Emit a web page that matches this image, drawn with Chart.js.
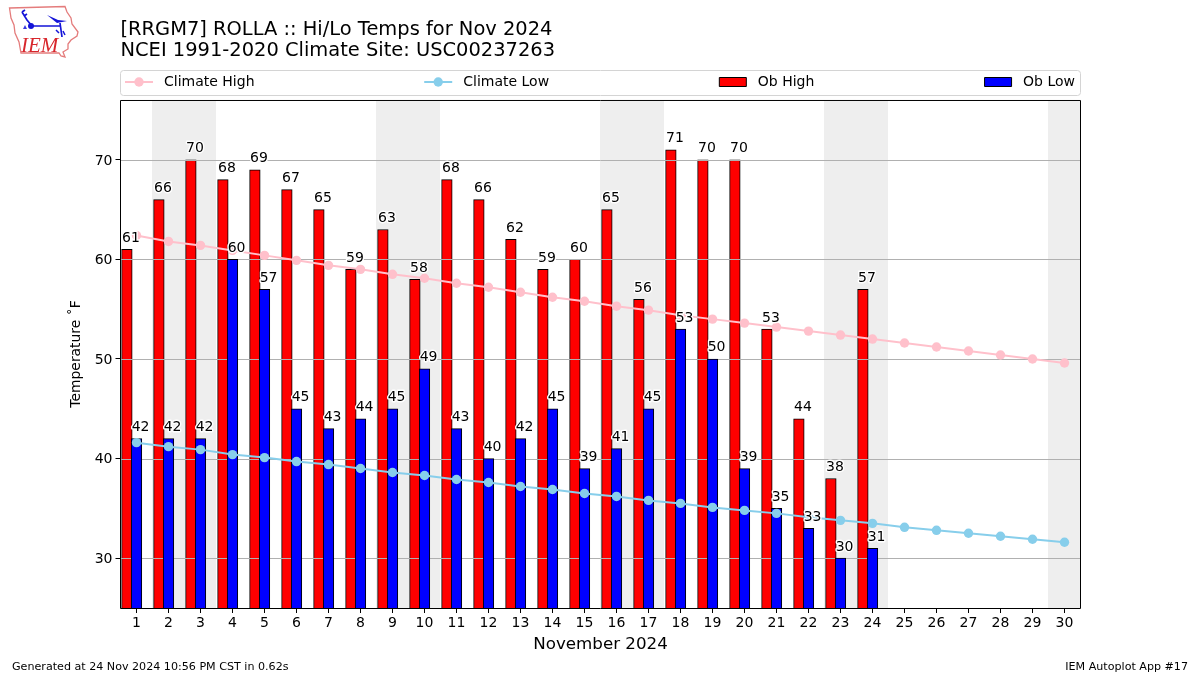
<!doctype html>
<html>

<head>
	<title>ROLLA Hi/Lo Temps</title>
	<script src="https://cdn.jsdelivr.net/npm/chart.js@4"></script>
	<style>
		body { margin: 0; background: #fff; }
		#logo { position: absolute; left: 0; top: 0; }
	</style>
</head>

<body>
	<canvas id="chart-area" width="1200" height="675"></canvas>
	<svg id="logo" width="90" height="64" viewBox="0 0 90 64">
		<path d="M9.5 8 L65 6.5 L67 12 L71 18 L72 24 L78 32 L77 36 L71 40 L68 44 L68 49 L63 52 L65 57 L61 56 L59 53 L21 53 L19 42 L15 33 L14 25 L11 18 Z" fill="none" stroke="#e47c7c" stroke-width="1.3"/>
		<path d="M32 26 L60 26 M60 23 L62 37 M22 12 L27 20 L32 26 M22 12 L25 10 M24 16 L27 14" fill="none" stroke="#1414d8" stroke-width="1.7"/>
		<path d="M47 15 L58 20 L67 21 L57 23 Z" fill="#1414d8"/>
		<circle cx="31" cy="26" r="3" fill="#1414d8"/>
		<path d="M23 29 L25 25 L27 29 Z" fill="#3a3ae0"/>
		<path d="M56 30 L59 33 M63 31 L65 35" stroke="#1414d8" stroke-width="1.5"/>
		<text x="21" y="52" font-family="Liberation Serif" font-style="italic" font-size="21" fill="#d8262c">IEM</text>
	</svg>
	<script>
		var titleLines = ['[RRGM7] ROLLA :: Hi/Lo Temps for Nov 2024', 'NCEI 1991-2020 Climate Site: USC00237263'];
		var days = [1,2,3,4,5,6,7,8,9,10,11,12,13,14,15,16,17,18,19,20,21,22,23,24,25,26,27,28,29,30];
		var yTicks = [30,40,50,60,70];
		var weekends = [2,3,9,10,16,17,23,24,30];
		var climateHigh = [62.4,61.8,61.4,60.9,60.4,59.9,59.4,59.0,58.5,58.1,57.6,57.2,56.7,56.2,55.8,55.3,54.9,54.4,54.0,53.6,53.2,52.8,52.4,52.0,51.6,51.2,50.8,50.4,50.0,49.6];
		var climateLow = [41.6,41.2,40.9,40.4,40.1,39.7,39.4,39.0,38.6,38.3,37.9,37.6,37.2,36.9,36.5,36.2,35.8,35.5,35.1,34.8,34.5,34.1,33.8,33.5,33.1,32.8,32.5,32.2,31.9,31.6];
		var obHigh = [61,66,70,68,69,67,65,59,63,58,68,66,62,59,60,65,56,71,70,70,53,44,38,57];
		var obLow = [42,42,42,60,57,45,43,44,45,49,43,40,42,45,39,41,45,53,50,39,35,33,30,31];

		var FONT = '"DejaVu Sans"';
		var HIGH_SHIFT = -0.3;

		function barPoints(values, shift) {
			return values.map(function(v, i) {
				return { x: days[i] + shift, y: v };
			});
		}

		// weekend bands go under everything
		var bandsPlugin = {
			id: 'bands',
			afterLayout: function(chart) {
				// y tick labels sit a touch high with canvas middle baseline
				chart.scales.y.getLabelItems().forEach(function(item) {
					item.options.translation[1] += 1.2;
				});
			},
			beforeDatasetsDraw: function(chart) {
				var a = chart.chartArea, x = chart.scales.x, ctx = chart.ctx;
				ctx.save();
				ctx.fillStyle = '#eeeeee';
				weekends.forEach(function(d) {
					var l = Math.floor(x.getPixelForValue(d - 0.5)), r = Math.floor(x.getPixelForValue(d + 0.5));
					ctx.fillRect(l, a.top, r - l, a.bottom - a.top);
				});
				ctx.restore();
			}
		};

		// the grid sits on top of the bars but under the climate lines
		var gridPlugin = {
			id: 'midGrid',
			afterDatasetDraw: function(chart, args) {
				if (chart.data.datasets[args.index].label !== 'Ob High') return;
				var a = chart.chartArea, y = chart.scales.y, ctx = chart.ctx;
				ctx.save();
				ctx.strokeStyle = '#b0b0b0';
				ctx.lineWidth = 1;
				yTicks.forEach(function(v) {
					var p = Math.round(y.getPixelForValue(v)) + 0.5;
					ctx.beginPath();
					ctx.moveTo(a.left, p);
					ctx.lineTo(a.right, p);
					ctx.stroke();
				});
				ctx.restore();
			}
		};

		var overlayPlugin = {
			id: 'overlay',
			afterDraw: function(chart) {
				var ctx = chart.ctx, a = chart.chartArea, x = chart.scales.x, y = chart.scales.y;
				ctx.save();

				// bar value labels
				ctx.font = '14px ' + FONT;
				ctx.textAlign = 'left';
				ctx.textBaseline = 'alphabetic';
				ctx.lineJoin = 'round';
				[[obHigh, HIGH_SHIFT], [obLow, 0]].forEach(function(s) {
					s[0].forEach(function(v, i) {
						var px = x.getPixelForValue(days[i] + s[1]) - 4.8;
						var py = y.getPixelForValue(v) - 7.5;
						ctx.strokeStyle = '#fff';
						ctx.lineWidth = 2.8;
						ctx.strokeText(String(v), px, py);
						ctx.fillStyle = '#000';
						ctx.fillText(String(v), px, py);
					});
				});

				// frame
				ctx.strokeStyle = '#000';
				ctx.lineWidth = 1;
				var fl = Math.floor(a.left) + 0.5, fr = Math.floor(a.right) + 0.5;
				ctx.strokeRect(fl, a.top + 0.5, fr - fl, a.bottom - a.top);

				// legend stretched over the plot width
				var boxTop = 70, boxH = 25, hw = 28, tp = 11, left = a.left + 4.5, right = a.right - 5.5;
				ctx.strokeStyle = '#d4d4d4';
				ctx.fillStyle = '#fff';
				ctx.beginPath();
				ctx.roundRect(fl, boxTop + 0.5, fr - fl, boxH, 3);
				ctx.fill();
				ctx.stroke();
				var sets = chart.data.datasets;
				var total = 0;
				sets.forEach(function(d) { total += hw + tp + ctx.measureText(d.label).width; });
				var gap = (right - left - total) / (sets.length - 1);
				var cx = left, cy = boxTop + 12;
				sets.forEach(function(d) {
					if (d.type === 'line') {
						ctx.strokeStyle = d.borderColor;
						ctx.lineWidth = 2;
						ctx.beginPath();
						ctx.moveTo(cx, cy);
						ctx.lineTo(cx + hw, cy);
						ctx.stroke();
						ctx.fillStyle = d.borderColor;
						ctx.beginPath();
						ctx.arc(cx + hw / 2, cy, 4.7, 0, Math.PI * 2);
						ctx.fill();
					} else {
						ctx.fillStyle = d.backgroundColor;
						ctx.fillRect(cx + 0.5, cy - 4.5, hw - 1, 9);
						ctx.strokeStyle = '#000';
						ctx.lineWidth = 1;
						ctx.strokeRect(cx + 0.5, cy - 4.5, hw - 1, 9);
					}
					ctx.fillStyle = '#000';
					ctx.textBaseline = 'middle';
					ctx.fillText(d.label, cx + hw + tp, cy);
					cx += hw + tp + ctx.measureText(d.label).width + gap;
				});

				// footer
				ctx.font = '11.12px ' + FONT;
				ctx.textBaseline = 'alphabetic';
				ctx.fillStyle = '#000';
				ctx.textAlign = 'left';
				ctx.fillText('Generated at 24 Nov 2024 10:56 PM CST in 0.62s', 12, 670);
				ctx.textAlign = 'right';
				ctx.fillText('IEM Autoplot App #17', 1188, 670);
				ctx.restore();
			}
		};

		var config = {
			data: {
				datasets: [{
					type: 'line',
					label: 'Climate High',
					data: barPoints(climateHigh, 0),
					borderColor: '#ffc0cb',
					backgroundColor: '#ffc0cb',
					borderWidth: 2,
					pointRadius: 4.7,
					pointBorderWidth: 0,
					order: 1
				}, {
					type: 'line',
					label: 'Climate Low',
					data: barPoints(climateLow, 0),
					borderColor: '#87ceeb',
					backgroundColor: '#87ceeb',
					borderWidth: 2,
					pointRadius: 4.7,
					pointBorderWidth: 0,
					order: 2
				}, {
					type: 'bar',
					label: 'Ob High',
					data: barPoints(obHigh, HIGH_SHIFT),
					backgroundColor: '#ff0000',
					borderColor: '#000',
					borderWidth: 1,
					borderSkipped: false,
					barThickness: 10.6,
					grouped: false,
					order: 4
				}, {
					type: 'bar',
					label: 'Ob Low',
					data: barPoints(obLow, 0),
					backgroundColor: '#0000ff',
					borderColor: '#000',
					borderWidth: 1,
					borderSkipped: false,
					barThickness: 10.6,
					grouped: false,
					order: 3
				}]
			},
			options: {
				responsive: false,
				animation: false,
				layout: { padding: { top: 0, right: 119.5, bottom: 20, left: 68 } },
				font: { family: FONT },
				plugins: {
					legend: { display: false },
					tooltip: { enabled: false },
					title: {
						display: true,
						text: titleLines,
						align: 'start',
						fullSize: false,
						color: '#000',
						font: { family: FONT, size: 19.45, weight: 'normal', lineHeight: 1.1 },
						padding: { top: 19, bottom: 38.2 }
					}
				},
				scales: {
					x: {
						type: 'linear',
						offset: false,
						min: 0.5,
						max: 30.5,
						afterBuildTicks: function(scale) {
							scale.ticks = days.map(function(d) { return { value: d }; });
						},
						afterFit: function(scale) { scale.height = 47; },
						grid: { offset: false, drawOnChartArea: false, tickColor: '#000', tickLength: 5, tickWidth: 1 },
						border: { display: false },
						ticks: { color: '#000', font: { family: FONT, size: 14 }, maxRotation: 0, autoSkip: false, padding: 2 },
						title: { display: true, text: 'November 2024', color: '#000', font: { family: FONT, size: 16.7 }, padding: { top: 1, bottom: 0 } }
					},
					y: {
						min: 25,
						max: 76,
						afterBuildTicks: function(scale) {
							scale.ticks = yTicks.map(function(v) { return { value: v }; });
						},
						afterFit: function(scale) { scale.width = 52.5; },
						grid: { drawOnChartArea: false, tickColor: '#000', tickLength: 5, tickWidth: 1 },
						border: { display: false },
						ticks: { color: '#000', font: { family: FONT, size: 14 }, padding: 3 },
						title: { display: true, text: 'Temperature \u02DAF', color: '#000', font: { family: FONT, size: 13.9 }, padding: { top: 0, bottom: 8 } }
					}
				}
			},
			plugins: [bandsPlugin, gridPlugin, overlayPlugin]
		};

		window.onload = function() {
			var ctx = document.getElementById('chart-area').getContext('2d');
			window.myChart = new Chart(ctx, config);
		};
	</script>
</body>

</html>
